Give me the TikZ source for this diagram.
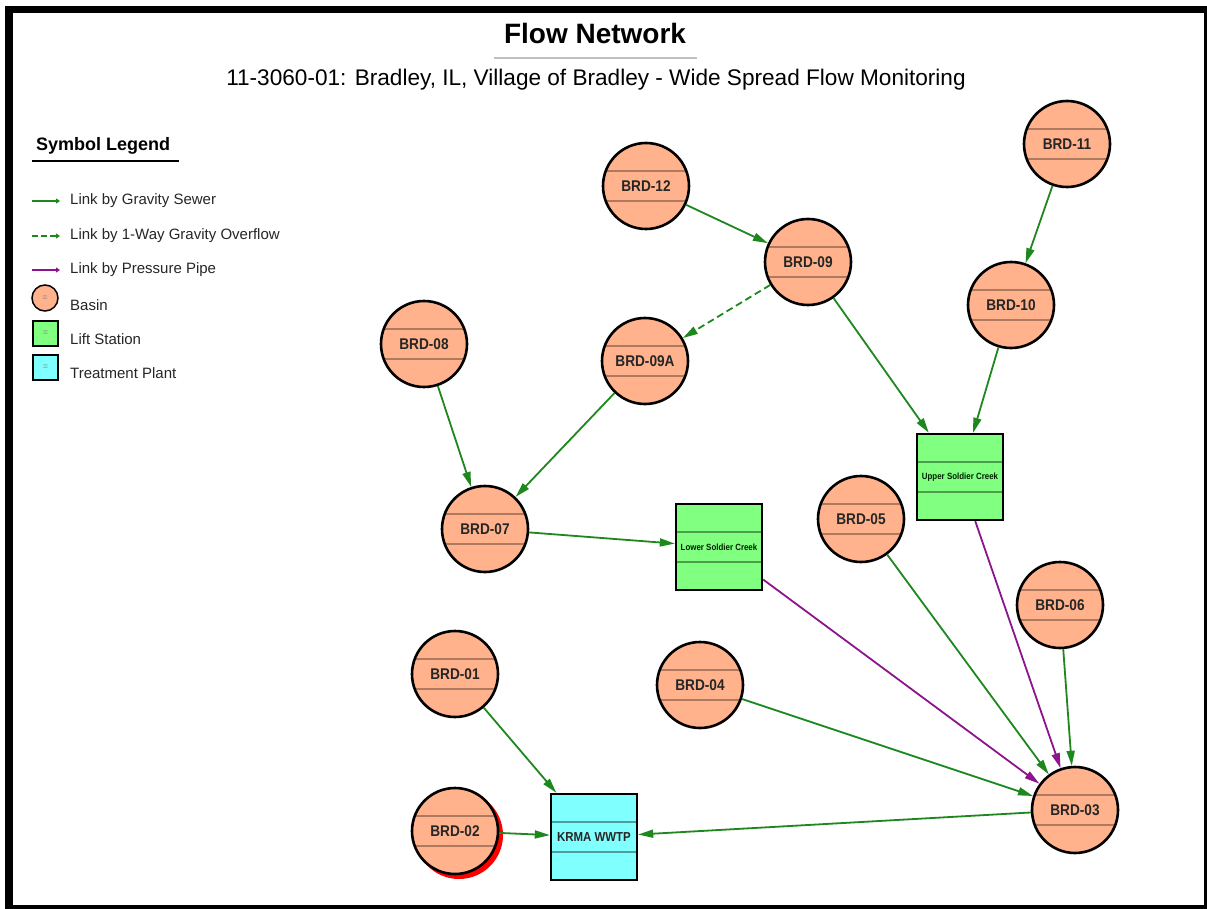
\documentclass[tikz,border=0pt]{standalone}
\usepackage{fontspec}
\setmainfont{Liberation Sans}
\newfontfamily\lblfont{Liberation Sans}[FakeStretch=0.88]
\usetikzlibrary{arrows.meta}

\definecolor{basinfill}{RGB}{255,178,140}
\definecolor{liftfill}{RGB}{128,255,128}
\definecolor{plantfill}{RGB}{128,255,255}
\definecolor{sewer}{RGB}{30,135,30}
\definecolor{pressure}{RGB}{140,20,140}

\begin{document}
\begin{tikzpicture}[x=1pt,y=-1pt,
  bands/.style={path picture={\draw[#1, line width=1.5pt] ([yshift=15pt]path picture bounding box.west) -- ([yshift=15pt]path picture bounding box.east) ([yshift=-15pt]path picture bounding box.west) -- ([yshift=-15pt]path picture bounding box.east);}}]
  \tikzstyle{every node}+=[inner sep=0pt]
  \tikzstyle{basin}=[circle, draw=black, line width=2.6pt, fill=basinfill, minimum size=86pt, bands=basinfill!68!black, text=black!85, font=\lblfont\bfseries\fontsize{15.5}{15.5}\selectfont]
  \tikzstyle{lift}=[rectangle, draw=black, line width=2.4pt, fill=liftfill, minimum size=86pt, bands=liftfill!62!black, text=black!80!green!60!black, font=\lblfont\bfseries\fontsize{9}{9}\selectfont]
  \tikzstyle{plant}=[rectangle, draw=black, line width=2.4pt, fill=plantfill, minimum size=86pt, bands=plantfill!62!black, text=black!85, font=\lblfont\bfseries\fontsize{13}{13}\selectfont]
  \tikzstyle{gravity}=[draw=sewer, line width=1.8pt, -{Triangle[length=15pt,width=8pt]}]
  \tikzstyle{overflow}=[gravity, dashed, dash pattern=on 7pt off 4pt]
  \tikzstyle{pipe}=[gravity, draw=pressure]
  \tikzstyle{legtext}=[anchor=west, font=\fontsize{15}{15}\selectfont, text=black!85]
  \useasboundingbox (0,0) rectangle (1207,909);
  \fill[black] (5,6) rectangle (1207,909);
  \fill[white] (13,13) rectangle (1204,905);
  \node[anchor=base, font=\bfseries\fontsize{28}{28}\selectfont] (title) at (595,44) {Flow Network};
  \draw[black!25, line width=2pt] (494,58.5) -- (697,58.5);
  \node[anchor=base, font=\fontsize{22.6}{22.6}\selectfont] (subtitle) at (596,86) {11-3060-01: Bradley, IL, Village of Bradley - Wide Spread Flow Monitoring};
  \node[anchor=base west, font=\bfseries\fontsize{18}{18}\selectfont] (legend) at (36,151) {Symbol Legend};
  \draw[black, line width=2.5pt] (32,161) -- (179,161);
  \coordinate (ga) at (32,201); \coordinate (gb) at (60,201);
  \coordinate (oa) at (32,236); \coordinate (ob) at (60,236);
  \coordinate (pa) at (32,270); \coordinate (pb) at (60,270);
  \draw[gravity, line width=2.4pt, -{Triangle[length=4pt,width=5pt]}] (ga) -- (gb);
  \draw[overflow, line width=2.4pt, dash pattern=on 6pt off 3pt, -{Triangle[length=4pt,width=5pt]}] (oa) -- (ob);
  \draw[pipe, line width=2.4pt, -{Triangle[length=4pt,width=5pt]}] (pa) -- (pb);
  \node[legtext] (lgravity) at (70,201) {Link by Gravity Sewer};
  \node[legtext] (loverflow) at (70,236) {Link by 1-Way Gravity Overflow};
  \node[legtext] (lpipe) at (70,270) {Link by Pressure Pipe};
  \node[circle, draw=black, line width=1.5pt, fill=basinfill, minimum size=26pt, text=black!50, font=\fontsize{9}{9}\selectfont] (sbasin) at (45,298) {=};
  \node[rectangle, draw=black, line width=1.5pt, fill=liftfill, minimum size=25pt, text=black!50, font=\fontsize{9}{9}\selectfont] (slift) at (45.5,333.5) {=};
  \node[rectangle, draw=black, line width=1.5pt, fill=plantfill, minimum size=25pt, text=black!50, font=\fontsize{9}{9}\selectfont] (splant) at (45.5,367.5) {=};
  \node[legtext] (lbasin) at (70,305) {Basin};
  \node[legtext] (llift) at (70,339) {Lift Station};
  \node[legtext] (lplant) at (70,373) {Treatment Plant};
  \fill[red] (459,835) circle (44);
  \node[basin] (brd12) at (646,186) {BRD-12};
  \node[basin] (brd09) at (808,262) {BRD-09};
  \node[basin] (brd09a) at (645,361) {BRD-09A};
  \node[basin] (brd11) at (1067,144) {BRD-11};
  \node[basin] (brd10) at (1011,305) {BRD-10};
  \node[basin] (brd08) at (424,344) {BRD-08};
  \node[basin] (brd07) at (485,529) {BRD-07};
  \node[basin] (brd05) at (861,519) {BRD-05};
  \node[basin] (brd06) at (1060,605) {BRD-06};
  \node[basin] (brd04) at (700,685) {BRD-04};
  \node[basin] (brd01) at (455,674) {BRD-01};
  \node[basin] (brd02) at (455,831) {BRD-02};
  \node[basin] (brd03) at (1075,810) {BRD-03};
  \node[lift] (lower) at (719,547) {Lower Soldier Creek};
  \node[lift] (upper) at (960,477) {Upper Soldier Creek};
  \node[plant] (krma) at (594,837) {KRMA WWTP};
  \draw[gravity] (brd12) -- (brd09);
  \draw[overflow] (brd09) -- (brd09a);
  \draw[gravity] (brd09) -- (upper);
  \draw[gravity] (brd11) -- (brd10);
  \draw[gravity] (brd10) -- (upper);
  \draw[gravity] (brd08) -- (brd07);
  \draw[gravity] (brd09a) -- (brd07);
  \draw[gravity] (brd07) -- (lower);
  \draw[pipe] (lower) -- (brd03);
  \draw[pipe] (upper) -- (brd03);
  \draw[gravity] (brd05) -- (brd03);
  \draw[gravity] (brd06) -- (brd03);
  \draw[gravity] (brd04) -- (brd03);
  \draw[gravity] (brd03) -- (krma);
  \draw[gravity] (brd01) -- (krma);
  \draw[gravity] (brd02) -- (krma);
\end{tikzpicture}
\end{document}
